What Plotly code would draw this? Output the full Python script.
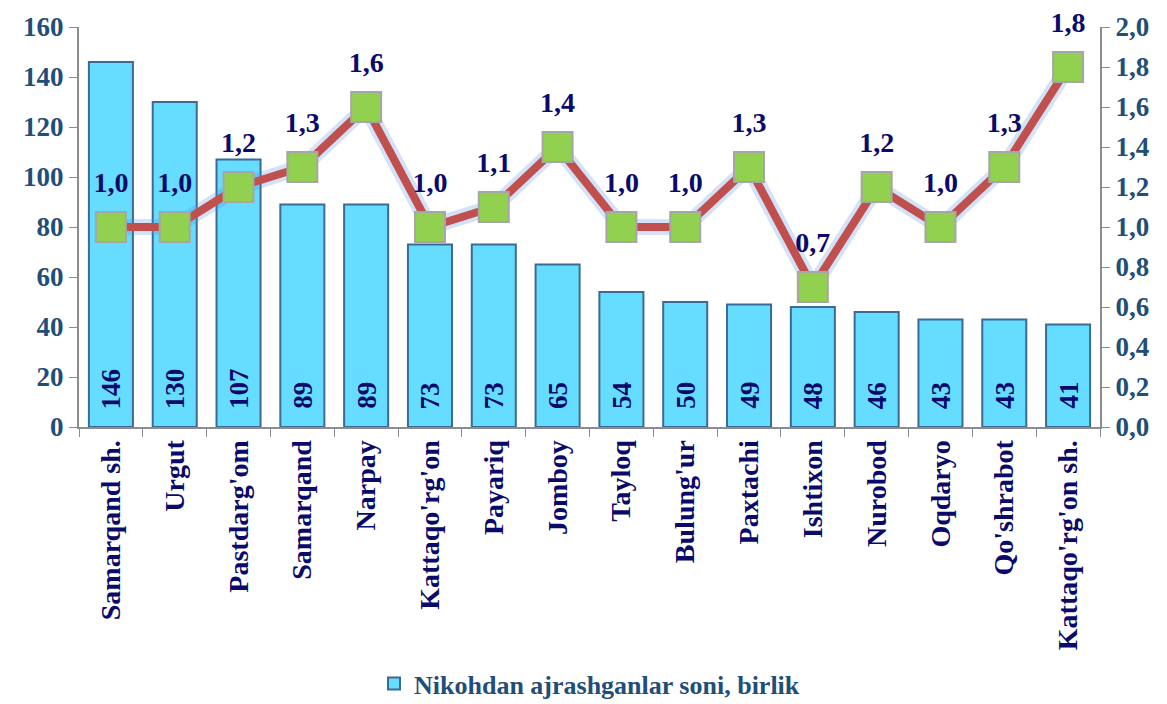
import plotly.graph_objects as go

categories = ["Samarqand sh.", "Urgut", "Pastdarg'om", "Samarqand", "Narpay", "Kattaqo'rg'on",
              "Payariq", "Jomboy", "Tayloq", "Bulung'ur", "Paxtachi", "Ishtixon", "Nurobod",
              "Oqdaryo", "Qo'shrabot", "Kattaqo'rg'on sh."]
divorces = [146, 130, 107, 89, 89, 73, 73, 65, 54, 50, 49, 48, 46, 43, 43, 41]
rate = [1.0, 1.0, 1.2, 1.3, 1.6, 1.0, 1.1, 1.4, 1.0, 1.0, 1.3, 0.7, 1.2, 1.0, 1.3, 1.8]
left_ticks = list(range(0, 161, 20))
right_ticks = [i / 10 for i in range(0, 21, 2)]

FONT = "Liberation Serif"
AXIS_COL = "#1F4E79"
LABEL_COL = "#0A0A6B"

fig = go.Figure()
fig.add_trace(go.Bar(
    x=categories, y=divorces, name="Nikohdan ajrashganlar soni, birlik",
    marker=dict(color="#66DDFF", line=dict(color="#3B6A96", width=2)),
    width=0.69, yaxis="y",
))
# glow under the line
fig.add_trace(go.Scatter(
    x=categories, y=rate, yaxis="y2", mode="lines", showlegend=False, hoverinfo="skip",
    line=dict(color="rgba(80,140,230,0.25)", width=16), cliponaxis=False,
))
fig.add_trace(go.Scatter(
    x=categories, y=rate, yaxis="y2", mode="lines+markers", showlegend=False,
    line=dict(color="#C0504D", width=8), cliponaxis=False,
    marker=dict(symbol="square", size=30, color="#92D050", line=dict(color="#A6A6A6", width=2)),
))
# labels above markers
fig.add_trace(go.Scatter(
    x=categories, y=rate, yaxis="y2", mode="markers+text", showlegend=False, hoverinfo="skip",
    marker=dict(size=44, color="rgba(0,0,0,0)"), cliponaxis=False,
    text=[f"{v:.1f}".replace(".", ",") for v in rate], textposition="top center",
    textfont=dict(family=FONT, size=28, color=LABEL_COL, weight="bold"),
))

for c, v in zip(categories, divorces):
    fig.add_annotation(x=c, y=0, yref="y", text=str(v), textangle=-90, showarrow=False,
                       yanchor="bottom", yshift=16,
                       font=dict(family=FONT, size=27, color=LABEL_COL, weight="bold"))

fig.update_layout(
    width=1159, height=696, plot_bgcolor="white", paper_bgcolor="white",
    margin=dict(l=71, r=67, t=19, b=277, autoexpand=False),
    separators=", ",
    bargap=0.31,
    font=dict(family=FONT, color=AXIS_COL, weight="bold"),
    xaxis=dict(tickangle=-90, showline=True, linecolor="#8C8C8C", linewidth=2,
               range=[-0.5, 15.5], automargin=False,
               ticks="outside", ticklen=8, tickcolor="#8C8C8C", tickson="boundaries",
               tickfont=dict(family=FONT, size=28, color=LABEL_COL, weight="bold")),
    yaxis=dict(range=[0, 160], tickvals=left_ticks, showgrid=False, showline=True, automargin=False,
               linecolor="#8C8C8C", linewidth=2, ticks="outside", ticklen=8, tickcolor="#8C8C8C",
               tickfont=dict(family=FONT, size=27, color=AXIS_COL, weight="bold"), zeroline=False),
    yaxis2=dict(range=[0, 2.0], tickvals=right_ticks, tickformat=".1f", overlaying="y", side="right",
                showgrid=False, showline=True, linecolor="#8C8C8C", linewidth=2, ticks="outside",
                ticklen=8, tickcolor="#8C8C8C", zeroline=False, automargin=False,
                tickfont=dict(family=FONT, size=27, color=AXIS_COL, weight="bold")),
    legend=dict(orientation="h", x=0.5, xanchor="center", y=-0.583, yanchor="top",
                font=dict(family=FONT, size=26, color=AXIS_COL, weight="bold")),
)

fig.write_html("out.html")
